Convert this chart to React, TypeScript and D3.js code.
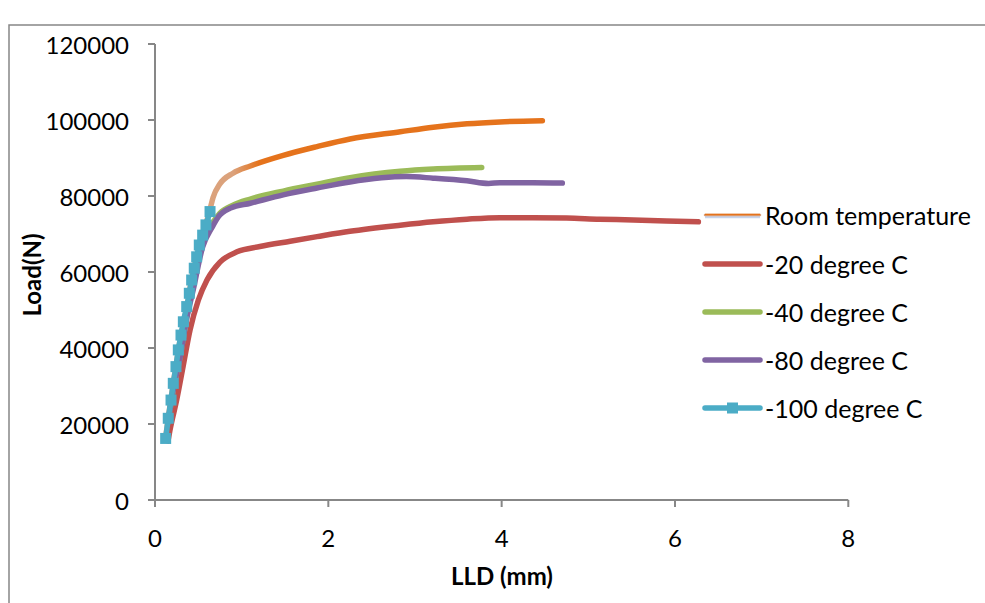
import React from "react";
import * as d3 from "d3";

const roomX = [0.12, 0.18, 0.24, 0.3, 0.37, 0.42, 0.48, 0.55, 0.635, 0.67, 0.75, 0.9, 1.1, 1.48, 1.87, 2.25, 2.83, 3.21, 3.6, 3.98, 4.47];
const roomY = [16000, 26000, 35000, 43400, 50900, 57900, 64000, 69700, 76500, 79600, 83200, 86000, 87900, 90700, 93000, 95000, 96900, 98100, 99000, 99500, 99800];

const m20X = [0.15, 0.173, 0.25, 0.323, 0.404, 0.5, 0.6, 0.75, 0.946, 1.21, 1.56, 1.87, 2.25, 2.83, 3.21, 3.6, 3.98, 4.36, 4.75, 5.13, 5.52, 5.9, 6.27];
const m20Y = [15500, 18400, 26300, 35000, 44700, 52600, 57900, 62600, 65300, 66700, 68100, 69300, 70700, 72300, 73200, 73900, 74300, 74300, 74200, 73900, 73700, 73400, 73200];

const m40X = [0.15, 0.21, 0.29, 0.37, 0.44, 0.55, 0.66, 0.75, 0.9, 1.1, 1.48, 1.87, 2.25, 2.83, 3.21, 3.77];
const m40Y = [20300, 28900, 37600, 48500, 56000, 67800, 72800, 75500, 77600, 79200, 81300, 83100, 84800, 86500, 87100, 87500];

const m80X = [0.15, 0.21, 0.29, 0.37, 0.44, 0.55, 0.66, 0.73, 0.87, 1.1, 1.48, 1.87, 2.25, 2.9, 3.21, 3.6, 3.85, 3.98, 4.36, 4.7];
const m80Y = [20300, 28900, 37600, 48200, 55200, 66600, 71800, 74500, 76800, 78100, 80300, 82100, 83700, 85100, 84700, 84000, 83300, 83500, 83500, 83400];

const m100X = [0.123, 0.153, 0.185, 0.211, 0.242, 0.269, 0.3, 0.327, 0.366, 0.396, 0.423, 0.453, 0.481, 0.511, 0.55, 0.588, 0.635];
const m100Y = [16200, 21500, 26300, 30700, 35100, 39500, 43400, 46900, 50900, 54400, 57900, 61000, 64000, 67100, 69700, 72400, 75900];

const xTicks = [0, 2, 4, 6, 8];
const yTicks = [0, 20000, 40000, 60000, 80000, 100000, 120000];

const legendLabels = ["Room temperature", "-20 degree C", "-40 degree C", "-80 degree C", "-100 degree C"];

const FONT = "Lato, 'Open Sans', sans-serif";

export default function App() {
  const x = d3.scaleLinear().domain([0, 8]).range([155, 848.3]);
  const y = d3.scaleLinear().domain([0, 120000]).range([500, 44]);
  const line = d3
    .line<[number, number]>()
    .x((d) => x(d[0]))
    .y((d) => y(d[1]))
    .curve(d3.curveMonotoneX);
  const pts = (xs: number[], ys: number[]) => xs.map((v, i) => [v, ys[i]] as [number, number]);

  const axisColor = "#878787";
  const lw = 5.5;
  const orange = "#E5731C";
  const peach = "#DBA27C";
  const red = "#C0504D";
  const green = "#9BBB59";
  const purple = "#8064A2";
  const cyan = "#4BACC6";

  const legendY = [215, 264, 312, 360, 408];
  const lx1 = 705;
  const lx2 = 760;

  return (
    <svg
      width={985}
      height={603}
      style={{ position: "absolute", left: 0, top: 0, background: "#fff" }}
      fontFamily={FONT}
    >
      <defs>
        <linearGradient id="roomGrad" gradientUnits="userSpaceOnUse" x1={x(0.9)} y1={0} x2={x(1.2)} y2={0}>
          <stop offset="0" stopColor={peach} />
          <stop offset="1" stopColor={orange} />
        </linearGradient>
      </defs>
      <rect x={9} y={25} width={1100} height={700} fill="#fff" stroke={axisColor} strokeWidth={1.5} />

      {/* axes */}
      <line x1={x(0)} x2={x(0)} y1={y(120000)} y2={y(0)} stroke={axisColor} strokeWidth={2} />
      {yTicks.map((t) => (
        <g key={"yt" + t}>
          <line x1={x(0) - 7} x2={x(0)} y1={y(t)} y2={y(t)} stroke={axisColor} strokeWidth={2} />
          <text x={129} y={y(t)} textAnchor="end" dominantBaseline="central" fontSize={24} fill="#000">
            {t}
          </text>
        </g>
      ))}
      <line x1={x(0)} x2={x(8)} y1={y(0)} y2={y(0)} stroke={axisColor} strokeWidth={2} />
      {xTicks.map((t) => (
        <g key={"xt" + t}>
          <line x1={x(t)} x2={x(t)} y1={y(0)} y2={y(0) + 7} stroke={axisColor} strokeWidth={2} />
          <text x={x(t)} y={537} textAnchor="middle" dominantBaseline="central" fontSize={24} fill="#000">
            {t}
          </text>
        </g>
      ))}
      <text x={502} y={575} textAnchor="middle" dominantBaseline="central" fontSize={24} fontWeight="bold" fill="#000">
        LLD (mm)
      </text>
      <text
        transform="translate(31,275) rotate(-90)"
        textAnchor="middle"
        dominantBaseline="central"
        fontSize={24}
        fontWeight="bold"
        fill="#000"
      >
        Load(N)
      </text>

      {/* series */}
      <path d={line(pts(roomX, roomY)) || ""} fill="none" stroke="url(#roomGrad)" strokeWidth={lw} strokeLinecap="round" strokeLinejoin="round" />
      <path d={line(pts(m20X, m20Y)) || ""} fill="none" stroke={red} strokeWidth={lw} strokeLinecap="round" strokeLinejoin="round" />
      <path d={line(pts(m40X, m40Y)) || ""} fill="none" stroke={green} strokeWidth={lw} strokeLinecap="round" strokeLinejoin="round" />
      <path d={line(pts(m80X, m80Y)) || ""} fill="none" stroke={purple} strokeWidth={lw} strokeLinecap="round" strokeLinejoin="round" />
      <path d={line(pts(m100X, m100Y)) || ""} fill="none" stroke={cyan} strokeWidth={lw} strokeLinecap="round" strokeLinejoin="round" />
      {m100X.map((v, i) => (
        <rect key={"mk" + i} x={x(v) - 5.5} y={y(m100Y[i]) - 5.5} width={11} height={11} fill={cyan} />
      ))}

      {/* legend */}
      <line x1={lx1} x2={lx2} y1={legendY[0] + 2} y2={legendY[0] + 2} stroke="#C6D3EC" strokeWidth={2.5} />
      <line x1={lx1} x2={lx2} y1={legendY[0]} y2={legendY[0]} stroke={peach} strokeWidth={2.5} strokeLinecap="round" />
      <line x1={lx1} x2={lx2} y1={legendY[0] - 0.5} y2={legendY[0] - 0.5} stroke={orange} strokeWidth={1.5} />
      {[red, green, purple, cyan].map((c, i) => (
        <line key={"ll" + i} x1={lx1} x2={lx2} y1={legendY[i + 1]} y2={legendY[i + 1]} stroke={c} strokeWidth={lw} strokeLinecap="round" />
      ))}
      <rect x={(lx1 + lx2) / 2 - 5.5} y={legendY[4] - 5.5} width={11} height={11} fill={cyan} />
      {legendLabels.map((l, i) => (
        <text key={"lt" + i} x={765} y={legendY[i]} dominantBaseline="central" fontSize={25} fill="#000">
          {l}
        </text>
      ))}
    </svg>
  );
}
